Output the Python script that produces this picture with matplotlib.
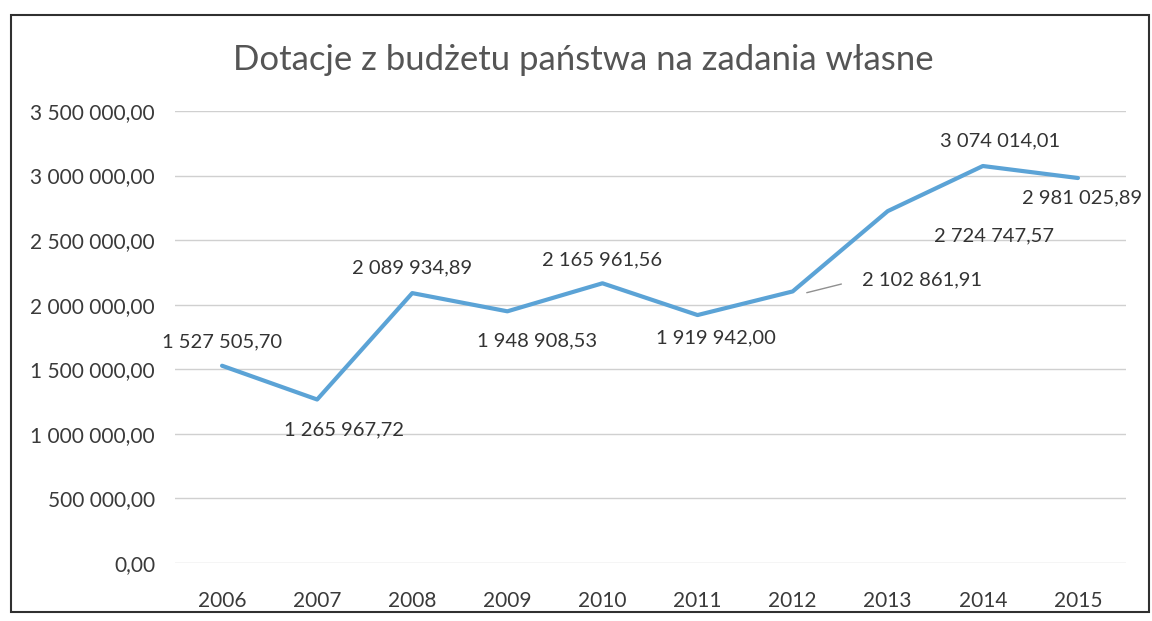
import matplotlib.pyplot as plt
from matplotlib.ticker import FuncFormatter, MultipleLocator
from matplotlib.patches import Rectangle

# Dotacje z budżetu państwa na zadania własne, 2006-2015
years = ['2006', '2007', '2008', '2009', '2010', '2011', '2012', '2013', '2014', '2015']
values = [1527505.70, 1265967.72, 2089934.89, 1948908.53, 2165961.56,
          1919942.00, 2102861.91, 2724747.57, 3074014.01, 2981025.89]
# label offsets in pixels (dx, dy) from each point
offsets = [(0, 24), (27, -30), (0, 25), (30, -30), (0, 23),
           (18, -23), (129, 12), (106, -25), (17, 25), (4, -20)]


def pl_fmt(v, pos=None):
    s = f'{v:,.2f}'
    return s.replace(',', ' ').replace('.', ',')


plt.rcParams['font.family'] = ['Lato', 'DejaVu Sans']

fig = plt.figure(figsize=(11.52, 6.21), dpi=100)
ax = fig.add_axes([174.5 / 1152, 1 - 563 / 621, (1125.5 - 174.5) / 1152, (563 - 111) / 621])

x = range(len(years))
ax.plot(x, values, color='#5BA3D6', lw=3.0, solid_joinstyle='round', solid_capstyle='round')

for i, (v, (dx, dy)) in enumerate(zip(values, offsets)):
    ax.annotate(pl_fmt(v), (i, v), xytext=(dx, dy), textcoords='offset pixels',
                ha='center', va='center', fontsize=14.5, color='#333333')
# leader line for 2012
ax.annotate('', (6.12, values[6] - 15000), xytext=(40, 10), textcoords='offset pixels',
            arrowprops=dict(arrowstyle='-', color='#909090', lw=1))

ax.set_xlim(-0.5, len(years) - 0.5)
ax.set_ylim(0, 3500000)
ax.yaxis.set_major_locator(MultipleLocator(500000))
ax.yaxis.set_major_formatter(FuncFormatter(pl_fmt))
ax.set_xticks(list(x))
ax.set_xticklabels(years)
ax.grid(axis='y', color='#d0d0d0', lw=1)
ax.set_axisbelow(True)
for s in ax.spines.values():
    s.set_visible(False)
ax.tick_params(length=0, labelsize=15, colors='#3a3a3a')
ax.tick_params(axis='x', pad=20)
ax.tick_params(axis='y', pad=14)

fig.text(583 / 1152, 1 - 60 / 621, 'Dotacje z budżetu państwa na zadania własne',
         ha='center', va='center', fontsize=25, color='#555555')

fig.patches.append(Rectangle((11 / 1152, 1 - 612 / 621), 1138 / 1152, 597 / 621,
                             transform=fig.transFigure, fill=False, ec='#303030', lw=1.5))

fig.savefig('out.png', dpi=100)
